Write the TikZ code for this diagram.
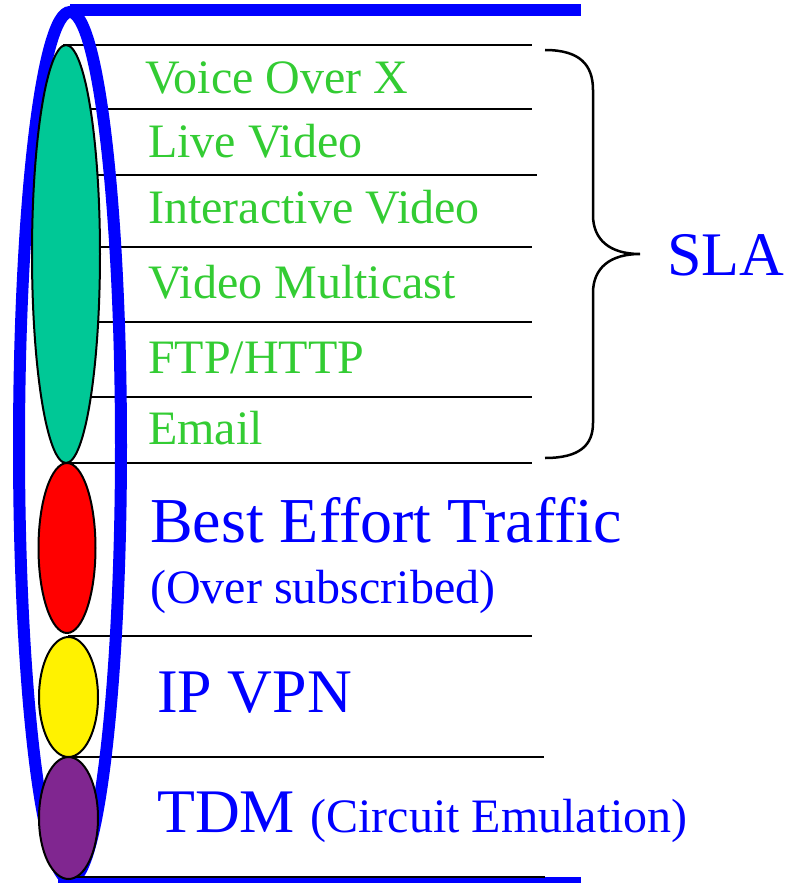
\documentclass[tikz,border=0pt]{standalone}
\usepackage{fontspec}
\setmainfont{Liberation Serif}
\usepackage{xcolor}
\usetikzlibrary{shapes.geometric}
\definecolor{slagreen}{RGB}{0,200,150}
\definecolor{txtgreen}{RGB}{51,204,51}
\definecolor{tdmpurple}{RGB}{128,38,144}
\newcommand{\fsz}[1]{\fontsize{#1}{#1}\selectfont}
\tikzset{
  classe/.style={ellipse, draw, line width=2pt, inner sep=0pt, outer sep=0pt},
  voce/.style={anchor=base west, inner sep=0pt, text=txtgreen, font=\fsz{48}},
  titolo/.style={anchor=base west, inner sep=0pt, text=blue, font=\fsz{62}},
  sotto/.style={anchor=base west, inner sep=0pt, text=blue, font=\fsz{48}},
  riga/.style={line width=2pt}
}

\begin{document}
\begin{tikzpicture}[x=1pt,y=-1pt]
  \useasboundingbox (0,0) rectangle (796,883);
  % righe
  \draw[riga] (63,45) -- (532,45);
  \draw[riga] (66,109) -- (532,109);
  \draw[riga] (66,175) -- (537,175);
  \draw[riga] (66,247) -- (532,247);
  \draw[riga] (66,322) -- (532,322);
  \draw[riga] (66,397) -- (532,397);
  \draw[riga] (66,463) -- (532,463);
  \draw[riga] (68,636) -- (532,636);
  \draw[riga] (68,757) -- (544,757);
  % tubo
  \node[ellipse, draw=blue, line width=12pt, inner sep=0pt, outer sep=0pt,
        minimum width=102pt, minimum height=868pt] (tubo) at (70,446) {};
  \draw[blue, line width=12pt] (70,10) -- (581,10);
  \draw[blue, line width=10pt] (58,882) -- (581,882);
  \draw[riga] (68,876.5) -- (545,876.5);
  % classi di traffico
  \node[classe, fill=slagreen, minimum width=68pt, minimum height=418pt] (sla) at (66,254) {};
  \node[classe, fill=red, minimum width=57pt, minimum height=170pt] (best) at (67,548) {};
  \node[classe, fill=yellow, minimum width=59pt, minimum height=120pt] (vpn) at (68.5,697) {};
  \node[classe, fill=tdmpurple, minimum width=59pt, minimum height=122pt] (tdm) at (68.5,818) {};
  % testi
  \node[voce] (vox) at (145,93) {Voice Over X};
  \node[voce] (live) at (148,157) {Live Video};
  \node[voce] (inter) at (148,223) {Interactive Video};
  \node[voce] (multi) at (148,298) {Video Multicast};
  \node[voce] (ftp) at (148,373) {FTP/HTTP};
  \node[voce] (email) at (148,444) {Email};
  \node[titolo, font=\fsz{64}] (bet) at (150,542) {Best Effort Traffic};
  \node[sotto] (over) at (150,603) {(Over subscribed)};
  \node[titolo] (ipvpn) at (157,712) {IP VPN};
  \node[titolo] (tdmtxt) at (157,832) {TDM \fsz{48}(Circuit Emulation)};
  % graffa
  \draw[line width=2.5pt] (545,50) .. controls (580,50) and (593,65) .. (593,90)
    -- (593,215) .. controls (593,240) and (610,254) .. (640,254)
    .. controls (610,254) and (593,268) .. (593,293)
    -- (593,423) .. controls (593,445) and (580,458) .. (545,458);
  \node[titolo] (slatxt) at (667,275) {SLA};
\end{tikzpicture}
\end{document}
